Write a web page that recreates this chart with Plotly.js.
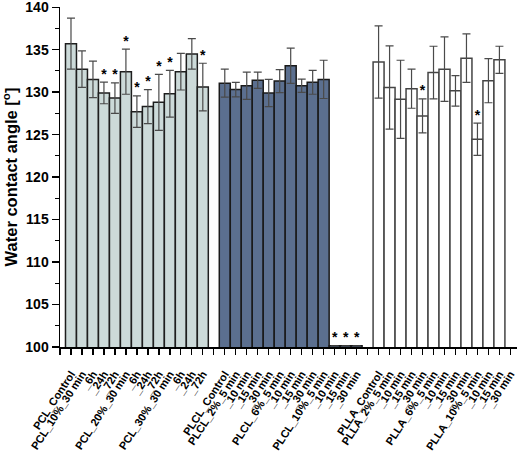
<!DOCTYPE html>
<html>
<head>
<meta charset="utf-8">
<script src="https://cdn.plot.ly/plotly-3.0.1.min.js"></script>
<style>html,body{margin:0;padding:0;background:#fff;}#chart{width:524px;height:454px;}</style>
</head>
<body>
<div id="chart"></div>
<script>
// Tick labels (position 0 and gap positions are empty)
const tickLabels = ["",
  "PCL_Control","PCL_10%_30 min","_6h","_24h","_72h","PCL_20%_30 min","_6h","_24h","_72h","PCL_30%_30 min","_6h","_24h","_72h",
  "",
  "PLCL_Control","PLCL_2%_5 min","_10 min","_15 min","_30 min","PLCL_6%_5 min","_10 min","_15 min","_30 min","PLCL_10%_5 min","_10 min","_15 min","_30 min",
  "",
  "PLLA_Control","PLLA_2%_5 min","_10 min","_15 min","_30 min","PLLA_6%_5 min","_10 min","_15 min","_30 min","PLLA_10%_5 min","_10 min","_15 min","_30 min"];

// PCL group
const pclValues = [135.7,132.7,131.5,129.9,129.3,132.4,127.7,128.3,128.8,129.8,132.4,134.5,130.6];
const pclErrors = [3.0,2.15,2.15,1.27,1.8,2.65,1.85,2.0,3.3,2.75,2.15,1.8,2.8];
const pclStars  = [0,0,0,1,1,1,1,1,1,1,0,0,1];

// PLCL group
const plclValues = [131.05,130.3,130.75,131.4,129.9,131.3,133.1,130.75,131.15,131.5,100.15,100.15,100.15];
const plclErrors = [1.65,0.85,1.6,0.95,1.6,1.35,2.07,0.78,1.4,2.25,0,0,0];
const plclStars  = [0,0,0,0,0,0,0,0,0,0,1,1,1];

// PLLA group
const pllaValues = [133.55,130.55,129.15,130.4,127.2,132.3,132.7,130.15,134.0,124.45,131.35,133.8,null];
const pllaErrors = [4.25,4.9,4.6,2.3,2.0,3.1,3.8,1.8,2.85,1.9,2.6,1.6,null];
const pllaStars  = [0,0,0,0,1,0,0,0,0,1,0,0,0];

const pclX  = pclValues.map((_, i) => 1 + i);
const plclX = plclValues.map((_, i) => 15 + i);
const pllaX = pllaValues.map((_, i) => 29 + i);

const FONT = 'Liberation Sans, Arial, sans-serif';

function barTrace(xs, ys, errs, fill, line) {
  return {
    type: 'bar', x: xs, y: ys, width: 1,
    marker: {color: fill, line: {color: line, width: 1.5}},
    error_y: {type: 'data', array: errs, visible: true, color: '#4a4a4a', thickness: 1.2, width: 4},
    hoverinfo: 'skip', showlegend: false
  };
}
function starTrace(xs, ys, errs, flags) {
  const sx = [], sy = [];
  flags.forEach((f, i) => { if (f) { sx.push(xs[i]); sy.push(ys[i] + (errs[i] || 0)); } });
  return {
    type: 'scatter', mode: 'text', x: sx, y: sy, text: sx.map(() => '*'),
    textposition: 'top center', cliponaxis: false,
    textfont: {family: FONT, size: 14, color: '#000000', weight: 'bold'},
    hoverinfo: 'skip', showlegend: false
  };
}

const data = [
  barTrace(pclX, pclValues, pclErrors, '#ccdad9', '#1e1e1e'),
  barTrace(plclX, plclValues, plclErrors, '#5b6f8f', '#1a1a1a'),
  barTrace(pllaX, pllaValues, pllaErrors, '#ffffff', '#444444'),
  starTrace(pclX, pclValues, pclErrors, pclStars),
  starTrace(plclX, plclValues, plclErrors, plclStars),
  starTrace(pllaX, pllaValues, pllaErrors, pllaStars)
];

const tickVals = tickLabels.map((_, i) => i);

const layout = {
  width: 524, height: 454,
  margin: {l: 60, r: 7, t: 7, b: 107},
  paper_bgcolor: '#fff', plot_bgcolor: '#fff',
  bargap: 0,
  font: {family: FONT, color: '#000'},
  xaxis: {
    range: [0, 41.6], tickvals: tickVals, ticktext: tickLabels,
    tickangle: -57, ticks: 'outside', ticklen: 6, tickwidth: 1.3, tickcolor: '#000',
    ticklabelstandoff: 9, ticklabeloverflow: 'allow',
    showline: true, linecolor: '#000', linewidth: 1.5, showgrid: false, zeroline: false,
    tickfont: {family: FONT, size: 11, color: '#000', weight: 'bold'}
  },
  yaxis: {
    range: [100, 140.02], tickvals: [100,105,110,115,120,125,130,135,140],
    ticks: 'outside', ticklen: 7, tickwidth: 1.3, tickcolor: '#000',
    ticklabeloverflow: 'allow',
    minor: {tickvals: [102.5,107.5,112.5,117.5,122.5,127.5,132.5,137.5], ticks: 'outside', ticklen: 4, tickwidth: 1.2, tickcolor: '#000'},
    showline: true, linecolor: '#000', linewidth: 1.5, showgrid: false, zeroline: false,
    tickfont: {family: FONT, size: 14, color: '#000', weight: 'bold'},
    title: {text: 'Water contact angle [<sup>o</sup>]', standoff: 8,
            font: {family: FONT, size: 16.5, color: '#000', weight: 'bold'}}
  }
};

Plotly.newPlot('chart', data, layout, {displayModeBar: false, staticPlot: true});
</script>
</body>
</html>
